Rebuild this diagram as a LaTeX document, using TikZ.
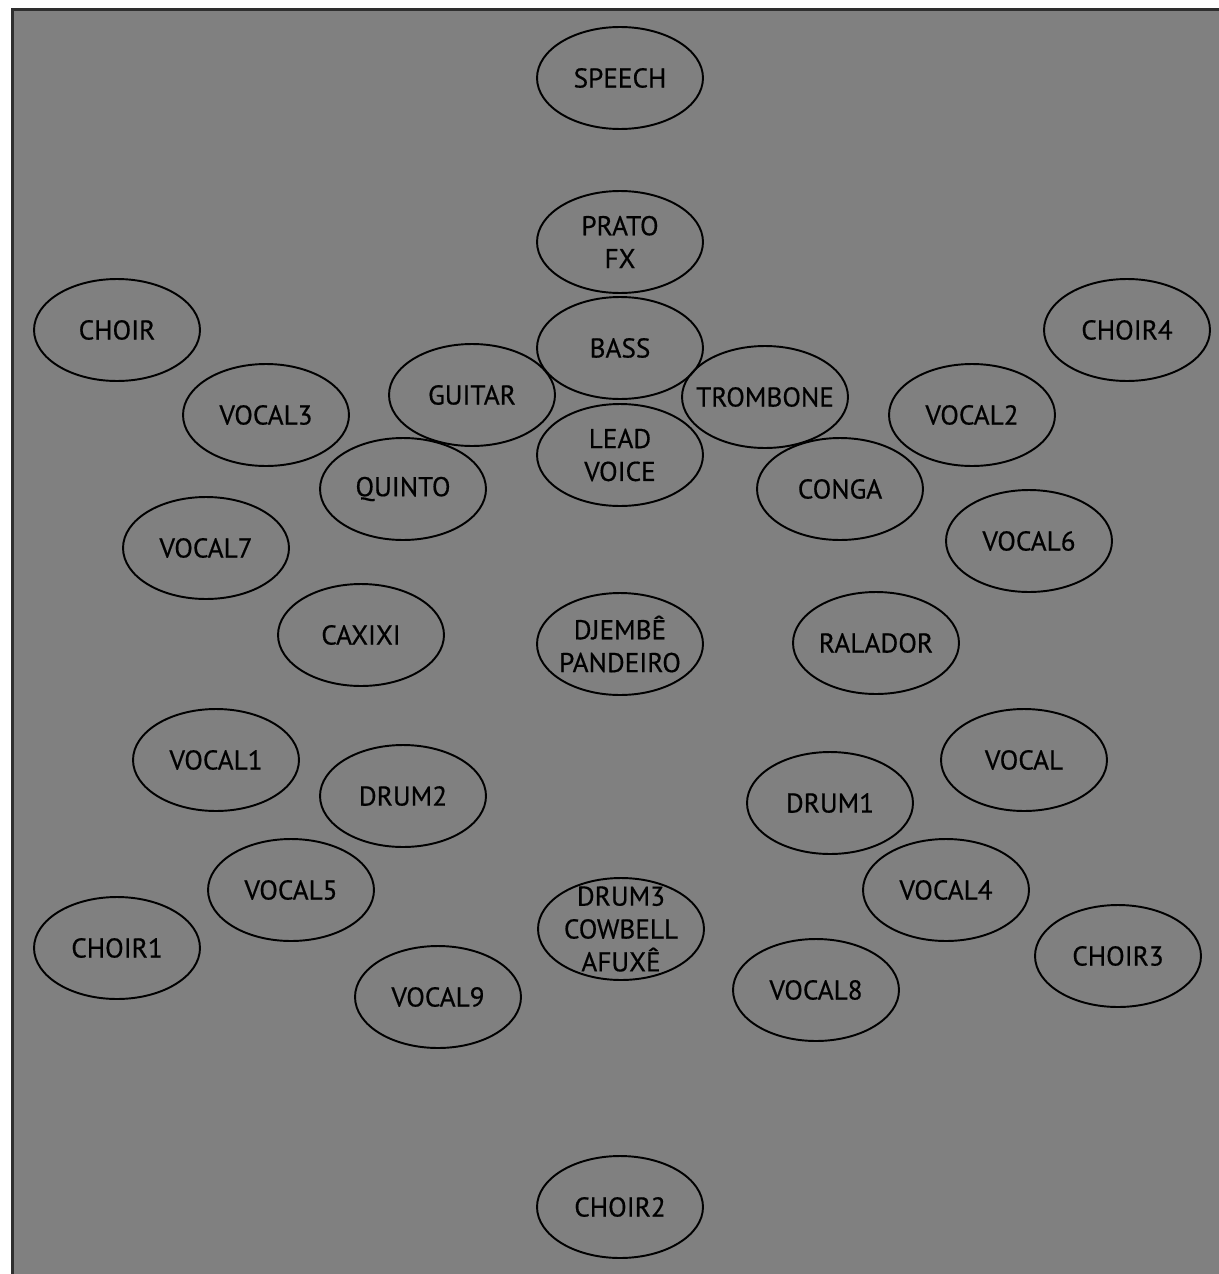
\documentclass[tikz,border=0pt]{standalone}
\usepackage{fontspec}
\setmainfont{PT Sans}
\newfontfamily\instrfont{PT Sans}[FakeBold=0.5]
\usetikzlibrary{shapes.geometric}
\definecolor{panelgray}{HTML}{808080}
\definecolor{framegray}{HTML}{2E2E2E}
\tikzset{instr/.style={ellipse,draw=black,line width=1.1pt,minimum width=3.32cm,minimum height=2.04cm,inner sep=-1.5cm,align=center,text=black,font=\instrfont\fontsize{15.5}{18.7}\selectfont}}

\begin{document}
\begin{tikzpicture}[x=0.02cm,y=-0.02cm]
	\useasboundingbox (0,0) rectangle (1219,1274);
	\fill[white] (0,0) rectangle (1219,1274);
	\clip (0,0) rectangle (1219,1274);
	\draw[fill=panelgray,draw=framegray,line width=2pt] (12.5,9.5) rectangle (1240,1290);
	% centre column
	\node[instr] (speech) at (620,78) {SPEECH};
	\node[instr] (prato) at (620,242) {PRATO\\FX};
	\node[instr] (bass) at (620,348) {BASS};
	\node[instr] (lead) at (620,455) {LEAD\\VOICE};
	\node[instr] (djembe) at (620,644) {DJEMBÊ\\PANDEIRO};
	\node[instr] (drum3) at (621,929) {DRUM3\\COWBELL\\AFUXÊ};
	\node[instr] (choir2) at (620,1207) {CHOIR2};
	% left side
	\node[instr] (guitar) at (472,395) {GUITAR};
	\node[instr] (choir) at (117,330) {CHOIR};
	\node[instr] (vocal3) at (266,415) {VOCAL3};
	\node[instr] (quinto) at (403,489) {QUINTO};
	\node[instr] (vocal7) at (206,548) {VOCAL7};
	\node[instr] (caxixi) at (361,635) {CAXIXI};
	\node[instr] (vocal1) at (216,760) {VOCAL1};
	\node[instr] (drum2) at (403,796) {DRUM2};
	\node[instr] (vocal5) at (291,890) {VOCAL5};
	\node[instr] (choir1) at (117,948) {CHOIR1};
	\node[instr] (vocal9) at (438,997) {VOCAL9};
	% right side
	\node[instr] (trombone) at (765,397) {TROMBONE};
	\node[instr] (choir4) at (1127,330) {CHOIR4};
	\node[instr] (vocal2) at (972,415) {VOCAL2};
	\node[instr] (conga) at (840,489) {CONGA};
	\node[instr] (vocal6) at (1029,541) {VOCAL6};
	\node[instr] (ralador) at (876,643) {RALADOR};
	\node[instr] (vocal) at (1024,760) {VOCAL};
	\node[instr] (drum1) at (830,803) {DRUM1};
	\node[instr] (vocal4) at (946,890) {VOCAL4};
	\node[instr] (choir3) at (1118,956) {CHOIR3};
	\node[instr] (vocal8) at (816,990) {VOCAL8};
\end{tikzpicture}
\end{document}
